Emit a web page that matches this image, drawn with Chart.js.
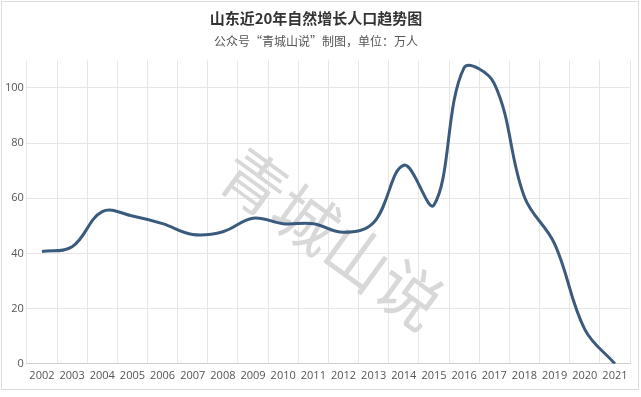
<!DOCTYPE html>
<html>
<head>
<meta charset="utf-8">
<script src="https://cdn.jsdelivr.net/npm/chart.js@4"></script>
<style>
  body { margin: 0; background: #fff; }
  #box { position: absolute; left: 1px; top: 1px; width: 636px; height: 387px; border: 1px solid #dcdcdc; }
  canvas { display: block; }
</style>
</head>
<body>
<div id="box"><canvas id="chart" width="636" height="387"></canvas></div>
<script>
const years = ['2002', '2003', '2004', '2005', '2006', '2007', '2008', '2009', '2010', '2011',
    '2012', '2013', '2014', '2015', '2016', '2017', '2018', '2019', '2020', '2021'];
const growth = [40.7, 42.4, 55.2, 53.6, 50.8, 46.9, 47.9, 52.8, 50.8, 50.8,
    47.7, 51.2, 72, 57.6, 107.4, 101.6, 60.5, 43.5, 12.5, 0];
const yTicks = [0, 20, 40, 60, 80, 100];

// 水印
const watermark = {
    id: 'watermark',
    beforeDatasetsDraw(chart) {
        const ctx = chart.ctx;
        ctx.save();
        ctx.translate(330, 236);
        ctx.rotate(36 * Math.PI / 180);
        ctx.font = '64px "Noto Sans CJK SC"';
        ctx.fillStyle = '#d8d8d8';
        ctx.textAlign = 'center';
        ctx.textBaseline = 'middle';
        ctx.fillText('青城山说', 0, 0);
        ctx.restore();
    }
};

new Chart(document.getElementById('chart').getContext('2d'), {
    type: 'line',
    data: {
        labels: years,
        datasets: [{
            data: growth,
            borderColor: '#3a5b7d',
            borderWidth: 3,
            pointRadius: 0,
            tension: 0.38,
            fill: false
        }]
    },
    plugins: [watermark],
    options: {
        responsive: false,
        animation: false,
        layout: { padding: { left: 0, right: 8, top: 0, bottom: 2 } },
        plugins: {
            legend: { display: false },
            tooltip: { enabled: false },
            title: {
                display: true,
                text: '山东近20年自然增长人口趋势图',
                color: '#333',
                font: { size: 15, weight: 'bold', family: '"Noto Sans CJK SC"' },
                padding: { top: 7, bottom: 5 }
            },
            subtitle: {
                display: true,
                text: '公众号“青城山说”制图，单位：万人',
                color: '#555',
                font: { size: 12, family: '"Noto Sans CJK SC"' },
                padding: { top: 2, bottom: 12 }
            }
        },
        scales: {
            x: {
                offset: true,
                grid: { offset: true, color: '#e6e6e6', drawTicks: false },
                border: { color: '#cfcfcf' },
                ticks: { color: '#555', font: { size: 11, family: '"Open Sans"' }, padding: 5, maxRotation: 0, autoSkip: false }
            },
            y: {
                min: 0,
                max: 110,
                afterBuildTicks(axis) { axis.ticks = yTicks.map(v => ({ value: v })); },
                grid: { color: '#e6e6e6', drawTicks: false },
                border: { display: false },
                ticks: { color: '#555', font: { size: 11, family: '"Open Sans"' }, padding: 3 }
            }
        }
    }
});
</script>
</body>
</html>
